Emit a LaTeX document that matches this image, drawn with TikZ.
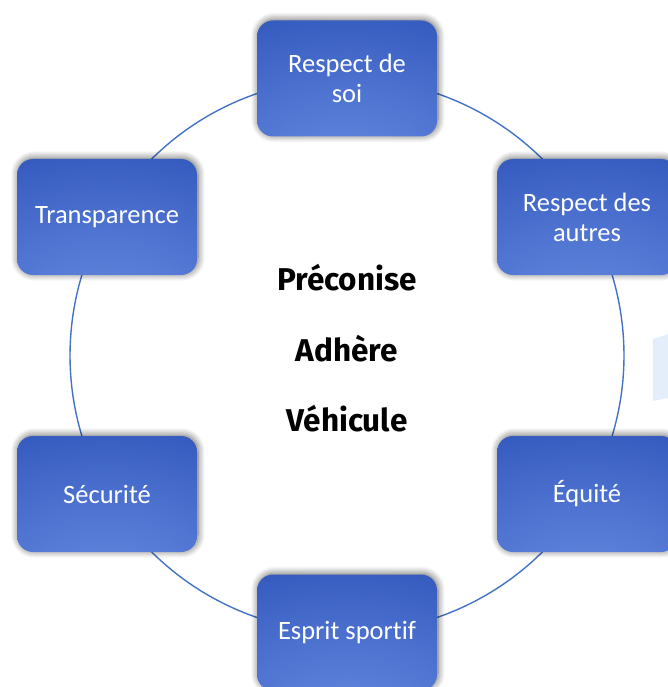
\documentclass[tikz,border=0pt]{standalone}
\usepackage{fontspec}
\setmainfont[Ligatures={NoCommon}]{Carlito}
\newfontfamily\centerfont{Fira Sans}
\usetikzlibrary{shadows.blur,backgrounds}
\definecolor{boxdark}{HTML}{2343A0}
\definecolor{boxmid}{HTML}{3157BC}
\definecolor{boxlight}{HTML}{6A8EE4}
\definecolor{ringcol}{HTML}{4472C4}
\definecolor{paleblue}{HTML}{E4EEFA}
\pgfdeclareradialshading{boxshade}{\pgfpoint{0bp}{-50bp}}{color(0bp)=(boxlight); color(30bp)=(boxlight!55!boxmid); color(62bp)=(boxmid); color(100bp)=(boxdark); color(130bp)=(boxdark)}
\tikzset{
  valuebox/.style={rounded corners=16pt, minimum width=180pt, minimum height=116pt,
    shading=boxshade, text=white, font=\fontsize{26.5}{30}\selectfont, align=center,
    blur shadow={shadow xshift=1pt, shadow yshift=1pt, shadow blur radius=7pt, shadow opacity=60, shadow blur steps=8}},
  ringline/.style={draw=ringcol, line width=1.4pt},
  centertext/.style={font=\centerfont\bfseries\fontsize{31.5}{36}\selectfont, text=black}
}
\begin{document}
\begin{tikzpicture}[x=1pt,y=-1pt]
\useasboundingbox (0,0) rectangle (668,687);
\clip (0,0) rectangle (668,687);
\fill[paleblue] (653,339) -- (668,334) -- (668,398) -- (653,401) -- cycle;
\coordinate (c) at (347,355.5);
\node[valuebox] (top) at (347,78.5) {Respect de\\soi};
\node[valuebox] (ur) at (587,217) {Respect des\\autres};
\node[valuebox] (lr) at (587,494) {Équité};
\node[valuebox] (bot) at (347,632.5) {Esprit sportif};
\node[valuebox] (ll) at (107,494) {Sécurité};
\node[valuebox] (ul) at (107,217) {Transparence};
\begin{scope}[on background layer]
\draw[ringline] (top.center) to[bend left=30, looseness=0.913] (ur.center);
\draw[ringline] (ur.center) to[bend left=30, looseness=0.913] (lr.center);
\draw[ringline] (lr.center) to[bend left=30, looseness=0.913] (bot.center);
\draw[ringline] (bot.center) to[bend left=30, looseness=0.913] (ll.center);
\draw[ringline] (ll.center) to[bend left=30, looseness=0.913] (ul.center);
\draw[ringline] (ul.center) to[bend left=30, looseness=0.913] (top.center);
\end{scope}
\node[centertext] (t1) at (347,278) {Préconise};
\node[centertext] (t2) at (347,349) {Adhère};
\node[centertext] (t3) at (347,419) {Véhicule};
\end{tikzpicture}
\end{document}
